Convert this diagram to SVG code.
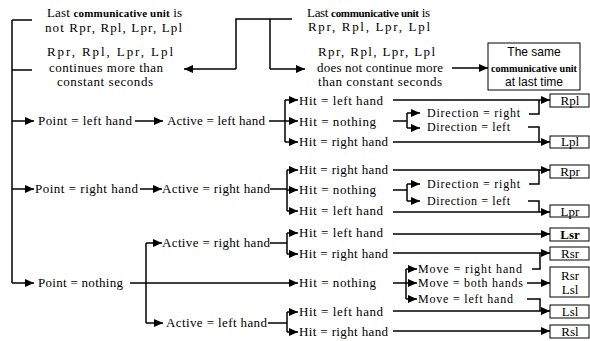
<svg xmlns="http://www.w3.org/2000/svg" width="590" height="341" viewBox="0 0 590 341">
<style>
text{font-family:"Liberation Serif","Times New Roman",serif;font-size:13px;fill:#000}
.b{font-weight:bold;font-size:11px}
.s{font-family:"Liberation Sans",Arial,sans-serif;font-size:12px}
.c{text-anchor:middle}
.sm{font-size:12px}
.ln{fill:none;stroke:#000;stroke-width:1.5}
.box{fill:#fff;stroke:#000;stroke-width:1}
</style>
<defs>
<marker id="a" markerUnits="userSpaceOnUse" markerWidth="10" markerHeight="8" refX="9" refY="4" orient="auto">
<path d="M0,0 L9,4 L0,8 z" fill="#000"/>
</marker>
</defs>
<rect width="590" height="341" fill="#fff"/>

<g id="connectors">
<path class="ln" d="M12,20 V283 M12,20 H32 M12,70 H32"/>
<path class="ln" d="M12,121 H34" marker-end="url(#a)"/>
<path class="ln" d="M12,189 H34" marker-end="url(#a)"/>
<path class="ln" d="M12,283 H34" marker-end="url(#a)"/>
<path class="ln" d="M236,69 V19 H292 M270,19 V69"/>
<path class="ln" d="M236,69 H184" marker-end="url(#a)"/>
<path class="ln" d="M270,69 H305" marker-end="url(#a)"/>
<path class="ln" d="M452,68 H488" marker-end="url(#a)"/>

<path class="ln" d="M135,121 H163" marker-end="url(#a)"/>
<path class="ln" d="M269,121 H285 M285,100 V142"/>
<path class="ln" d="M285,100 H298" marker-end="url(#a)"/>
<path class="ln" d="M285,121 H298" marker-end="url(#a)"/>
<path class="ln" d="M285,142 H298" marker-end="url(#a)"/>
<path class="ln" d="M393,100 H550" marker-end="url(#a)"/>
<path class="ln" d="M393,121 H407 M407,113 V128"/>
<path class="ln" d="M407,113 H420" marker-end="url(#a)"/>
<path class="ln" d="M407,128 H420" marker-end="url(#a)"/>
<path class="ln" d="M529,114 H539 V100 M528,127 H539 V142"/>
<path class="ln" d="M393,142 H550" marker-end="url(#a)"/>

<path class="ln" d="M140,189 H162" marker-end="url(#a)"/>
<path class="ln" d="M270,189 H287 M287,170 V211"/>
<path class="ln" d="M287,170 H298" marker-end="url(#a)"/>
<path class="ln" d="M287,190 H298" marker-end="url(#a)"/>
<path class="ln" d="M287,211 H298" marker-end="url(#a)"/>
<path class="ln" d="M393,170 H550" marker-end="url(#a)"/>
<path class="ln" d="M393,190 H407 M407,184 V201"/>
<path class="ln" d="M407,184 H420" marker-end="url(#a)"/>
<path class="ln" d="M407,201 H420" marker-end="url(#a)"/>
<path class="ln" d="M529,184 H539 V170 M528,201 H539 V212"/>
<path class="ln" d="M393,212 H550" marker-end="url(#a)"/>

<path class="ln" d="M130,283 H298" marker-end="url(#a)"/>
<path class="ln" d="M146,243 V323"/>
<path class="ln" d="M146,243 H162" marker-end="url(#a)"/>
<path class="ln" d="M146,323 H163" marker-end="url(#a)"/>
<path class="ln" d="M270,243 H287 M287,233 V254"/>
<path class="ln" d="M287,233 H298" marker-end="url(#a)"/>
<path class="ln" d="M287,254 H298" marker-end="url(#a)"/>
<path class="ln" d="M393,234 H550" marker-end="url(#a)"/>
<path class="ln" d="M393,253 H550" marker-end="url(#a)"/>
<path class="ln" d="M393,283 H406 M406,269 V299"/>
<path class="ln" d="M406,269 H417" marker-end="url(#a)"/>
<path class="ln" d="M406,283 H417" marker-end="url(#a)"/>
<path class="ln" d="M406,299 H417" marker-end="url(#a)"/>
<path class="ln" d="M532,269 H540 V253 M527,299 H540 V311"/>
<path class="ln" d="M527,283 H550" marker-end="url(#a)"/>
<path class="ln" d="M393,311 H550" marker-end="url(#a)"/>
<path class="ln" d="M268,323 H287 M287,312 V332"/>
<path class="ln" d="M287,312 H298" marker-end="url(#a)"/>
<path class="ln" d="M287,332 H298" marker-end="url(#a)"/>
<path class="ln" d="M393,331 H550" marker-end="url(#a)"/>
</g>

<g id="n-last-not">
<text x="47" y="17" textLength="135">Last <tspan class="b">communicative unit</tspan> is</text>
<text x="45" y="32" textLength="137">not Rpr, Rpl, Lpr, Lpl</text>
</g>
<g id="n-continues">
<text x="47" y="56" textLength="126">Rpr, Rpl, Lpr, Lpl</text>
<text x="49" y="72" textLength="114">continues more than</text>
<text x="57" y="86" textLength="96">constant seconds</text>
</g>
<g id="n-last-is">
<text x="307" y="17" textLength="123">Last <tspan class="b">communicative unit</tspan> is</text>
<text x="308" y="31" textLength="122">Rpr, Rpl, Lpr, Lpl</text>
</g>
<g id="n-notcontinue">
<text x="318" y="56" textLength="117">Rpr, Rpl, Lpr, Lpl</text>
<text x="317" y="72" textLength="126">does not continue more</text>
<text x="318" y="86" textLength="124">than constant seconds</text>
</g>
<g id="n-same">
<rect class="box" x="488" y="43" width="92" height="47"/>
<text class="s c" x="534" y="56">The same</text>
<text class="b c" x="534" y="72" font-size="10" textLength="86" lengthAdjust="spacingAndGlyphs">communicative unit</text>
<text class="s c" x="534" y="86">at last time</text>
</g>

<g id="n-point-left"><text x="38" y="125" textLength="94">Point = left hand</text></g>
<g id="n-active-left1"><text x="167" y="125" textLength="98">Active = left hand</text></g>
<g id="n-point-right"><text x="35" y="193" textLength="103">Point = right hand</text></g>
<g id="n-active-right1"><text x="162" y="193" textLength="108">Active = right hand</text></g>
<g id="n-point-nothing"><text x="38" y="287" textLength="85">Point = nothing</text></g>
<g id="n-active-right2"><text x="162" y="247" textLength="108">Active = right hand</text></g>
<g id="n-active-left2"><text x="166" y="327" textLength="101">Active = left hand</text></g>

<g id="n-hits">
<text x="299" y="105" textLength="84">Hit = left hand</text>
<text x="299" y="126" textLength="77">Hit = nothing</text>
<text x="299" y="146" textLength="89">Hit = right hand</text>
<text x="299" y="174" textLength="89">Hit = right hand</text>
<text x="299" y="194" textLength="77">Hit = nothing</text>
<text x="299" y="215" textLength="84">Hit = left hand</text>
<text x="299" y="237" textLength="84">Hit = left hand</text>
<text x="299" y="258" textLength="89">Hit = right hand</text>
<text x="299" y="287" textLength="77">Hit = nothing</text>
<text x="299" y="316" textLength="84">Hit = left hand</text>
<text x="299" y="336" textLength="89">Hit = right hand</text>
</g>

<g id="n-direction">
<text class="sm" x="427" y="117" textLength="93">Direction = right</text>
<text class="sm" x="427" y="131" textLength="83">Direction = left</text>
<text class="sm" x="427" y="188" textLength="93">Direction = right</text>
<text class="sm" x="427" y="205" textLength="83">Direction = left</text>
</g>
<g id="n-move">
<text class="sm" x="418" y="273" textLength="104">Move = right hand</text>
<text class="sm" x="418" y="287" textLength="105">Move = both hands</text>
<text class="sm" x="418" y="303" textLength="95">Move = left hand</text>
</g>

<g id="n-Rpl"><rect class="box" x="550" y="94" width="39" height="13"/><text class="c" x="570" y="105">Rpl</text></g>
<g id="n-Lpl"><rect class="box" x="550" y="136" width="39" height="12"/><text class="c" x="570" y="146">Lpl</text></g>
<g id="n-Rpr"><rect class="box" x="550" y="165" width="39" height="13"/><text class="c" x="570" y="176">Rpr</text></g>
<g id="n-Lpr"><rect class="box" x="550" y="205" width="39" height="12"/><text class="c" x="570" y="216">Lpr</text></g>
<g id="n-Lsr"><rect class="box" x="550" y="228" width="39" height="13"/><text class="c" x="570" y="239" font-weight="bold">Lsr</text></g>
<g id="n-Rsr"><rect class="box" x="550" y="247" width="39" height="13"/><text class="c" x="570" y="258">Rsr</text></g>
<g id="n-RsrLsl"><rect class="box" x="550" y="267" width="39" height="30"/><text class="c" x="570" y="280">Rsr</text><text class="c" x="570" y="294">Lsl</text></g>
<g id="n-Lsl"><rect class="box" x="550" y="305" width="39" height="13"/><text class="c" x="570" y="316">Lsl</text></g>
<g id="n-Rsl"><rect class="box" x="550" y="325" width="39" height="13"/><text class="c" x="570" y="336">Rsl</text></g>
</svg>
